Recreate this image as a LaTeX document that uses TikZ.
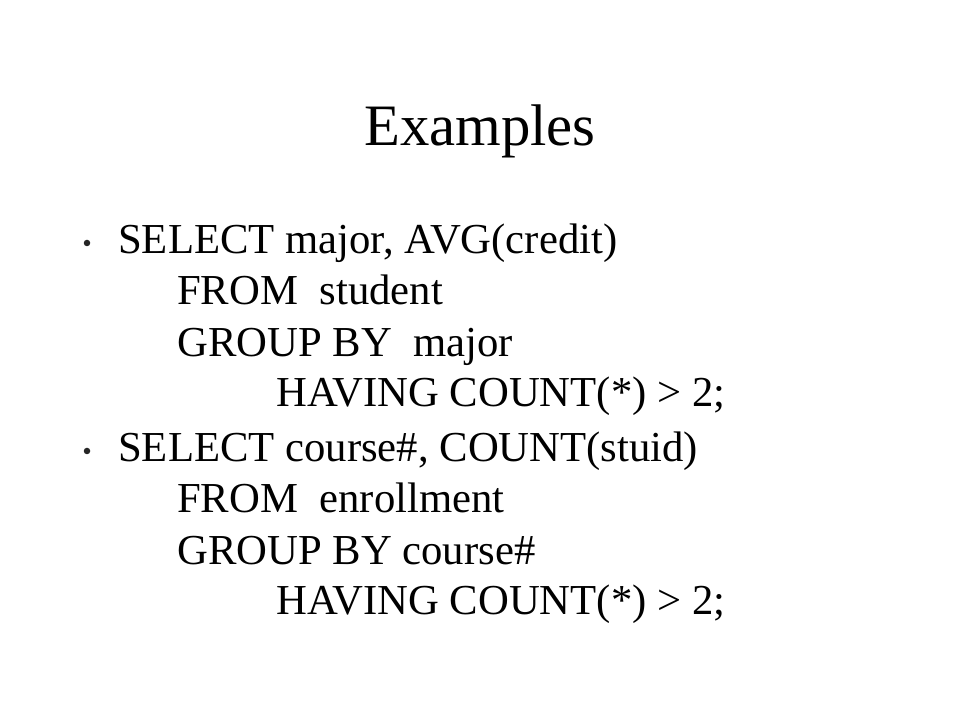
\documentclass[tikz,border=0pt]{standalone}
\usepackage{fontspec}
\setmainfont{Liberation Serif}
\begin{document}
\begin{tikzpicture}[x=1pt,y=1pt,
  titletext/.style={inner sep=0pt,anchor=base,font=\fontsize{58.7}{70}\selectfont},
  bodytext/.style={inner sep=0pt,anchor=base west,font=\fontsize{42.7}{51}\selectfont},
  bulletdot/.style={circle,fill=black!85,inner sep=0pt,minimum size=6.5pt}]
\useasboundingbox[fill=white] (0,0) rectangle (960,720);
\node[titletext] (title) at (480,574) {Examples};
\node[bulletdot] (b1) at (87,477) {};
\node[bodytext] (l1) at (118,466) {SELECT major, AVG(credit)};
\node[bodytext] (l2) at (177,415) {FROM\ \ student};
\node[bodytext] (l3) at (177,363) {GROUP BY\ \ major};
\node[bodytext] (l4) at (276,313) {HAVING COUNT(*) > 2;};
\node[bulletdot] (b2) at (87,269) {};
\node[bodytext] (l5) at (118,258) {SELECT course\#, COUNT(stuid)};
\node[bodytext] (l6) at (177,207) {FROM\ \ enrollment};
\node[bodytext] (l7) at (177,156) {GROUP BY course\#};
\node[bodytext] (l8) at (276,106) {HAVING COUNT(*) > 2;};
\end{tikzpicture}
\end{document}
